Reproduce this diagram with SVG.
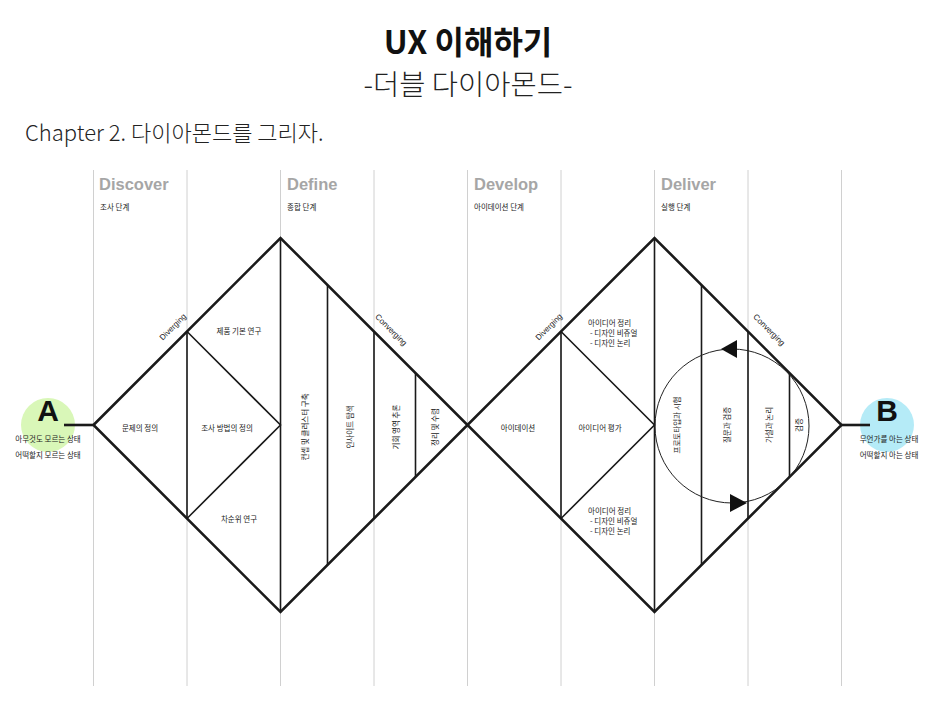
<svg xmlns="http://www.w3.org/2000/svg" width="936" height="702" viewBox="0 0 936 702">
<defs>
<style>
.k{font-family:"Noto Sans CJK KR","Noto Sans",sans-serif;}
.t{font-size:7.5px;fill:#222;text-anchor:middle;dominant-baseline:central;}
.tl{font-size:7.5px;fill:#222;}
.h{font-family:"Liberation Sans",Arial,sans-serif;font-weight:bold;font-size:16.5px;fill:#a6a6a6;}
.hs{font-size:7.5px;fill:#222;}
.g{stroke:#d0d0d0;stroke-width:1;fill:none;}
.o{stroke:#1a1a1a;stroke-width:2.6;fill:none;stroke-linejoin:miter;}
.i{stroke:#1a1a1a;stroke-width:1.6;fill:none;}
.lat{font-family:"Liberation Sans",Arial,sans-serif;font-size:8px;fill:#222;text-anchor:middle;dominant-baseline:central;}
</style>
</defs>
<rect width="936" height="702" fill="#fff"/>

<g id="title">
<text class="k" x="468" y="54" font-size="32" font-weight="bold" text-anchor="middle" fill="#111">UX 이해하기</text>
<text class="k" x="468" y="95" font-size="28.5" font-weight="300" text-anchor="middle" fill="#222">-더블 다이아몬드-</text>
<text class="k" x="25" y="141" font-size="22" font-weight="300" fill="#222">Chapter 2. 다이아몬드를 그리자.</text>
</g>

<g id="grid">
<line class="g" x1="93.5" y1="170" x2="93.5" y2="686"/>
<line class="g" x1="187" y1="170" x2="187" y2="686"/>
<line class="g" x1="280.5" y1="170" x2="280.5" y2="686"/>
<line class="g" x1="374" y1="170" x2="374" y2="686"/>
<line class="g" x1="467.5" y1="170" x2="467.5" y2="686"/>
<line class="g" x1="561" y1="170" x2="561" y2="686"/>
<line class="g" x1="654.5" y1="170" x2="654.5" y2="686"/>
<line class="g" x1="748" y1="170" x2="748" y2="686"/>
<line class="g" x1="841.5" y1="170" x2="841.5" y2="686"/>
</g>

<g id="headers">
<text class="h" x="99" y="190">Discover</text>
<text class="k hs" x="100" y="210">조사 단계</text>
<text class="h" x="287" y="190">Define</text>
<text class="k hs" x="287" y="210">종합 단계</text>
<text class="h" x="474" y="190">Develop</text>
<text class="k hs" x="474" y="210">아이데이션 단계</text>
<text class="h" x="661" y="190">Deliver</text>
<text class="k hs" x="661" y="210">실행 단계</text>
</g>

<g id="nodeA">
<circle cx="48" cy="425" r="27" fill="#d9f7b8"/>
<text x="48" y="421" font-family="Liberation Sans,Arial,sans-serif" font-weight="bold" font-size="30" text-anchor="middle" fill="#111">A</text>
<text class="k t" x="48" y="438">아무것도 모르는 상태</text>
<text class="k t" x="48" y="454">어떡할지 모르는 상태</text>
</g>

<g id="nodeB">
<circle cx="887" cy="425" r="27" fill="#b5ebf7"/>
<text x="887" y="421" font-family="Liberation Sans,Arial,sans-serif" font-weight="bold" font-size="30" text-anchor="middle" fill="#111">B</text>
<text class="k t" x="889" y="438">무언가를 아는 상태</text>
<text class="k t" x="889" y="454">어떡할지 아는 상태</text>
</g>

<g id="connectors">
<line class="o" x1="64" y1="425" x2="93.5" y2="425"/>
<line class="o" x1="841.5" y1="425" x2="870" y2="425"/>
</g>

<g id="diamond1">
<polygon class="o" points="93.5,425 280.5,238 467.5,425 280.5,612"/>
<line class="i" x1="187" y1="331.5" x2="187" y2="518.5"/>
<polyline class="i" points="187,331.5 280.5,425 187,518.5"/>
<line class="i" x1="280.5" y1="238" x2="280.5" y2="612"/>
<line class="i" x1="327.5" y1="285" x2="327.5" y2="565"/>
<line class="i" x1="374" y1="331.5" x2="374" y2="518.5"/>
<line class="i" x1="415.5" y1="373" x2="415.5" y2="477"/>
<text class="lat" transform="translate(173,327) rotate(-45)">Diverging</text>
<text class="lat" transform="translate(391,330) rotate(45)">Converging</text>
<text class="k t" x="239" y="330">제품 기본 연구</text>
<text class="k t" x="140" y="427">문제의 정의</text>
<text class="k t" x="227" y="427">조사 방법의 정의</text>
<text class="k t" x="239" y="518">차순위 연구</text>
<text class="k t" transform="translate(304,427) rotate(-90)">컨셉 및 클러스터 구축</text>
<text class="k t" transform="translate(349,427) rotate(-90)">인사이트 탐색</text>
<text class="k t" transform="translate(395,427) rotate(-90)">기회 영역 추론</text>
<text class="k t" transform="translate(434,427) rotate(-90)">정리 및 수렴</text>
</g>

<g id="diamond2">
<polygon class="o" points="467.5,425 654.5,238 841.5,425 654.5,612"/>
<line class="i" x1="561" y1="331.5" x2="561" y2="518.5"/>
<polyline class="i" points="561,331.5 654.5,425 561,518.5"/>
<line class="i" x1="654.5" y1="238" x2="654.5" y2="612"/>
<line class="i" x1="701.5" y1="285" x2="701.5" y2="565"/>
<line class="i" x1="748" y1="331.5" x2="748" y2="518.5"/>
<line class="i" x1="789.5" y1="373" x2="789.5" y2="477"/>
<text class="lat" transform="translate(549,327) rotate(-45)">Diverging</text>
<text class="lat" transform="translate(769,330) rotate(45)">Converging</text>
<text class="k tl" x="588" y="326">아이디어 정리</text>
<text class="k tl" x="590" y="336"> - 디자인 비쥬얼</text>
<text class="k tl" x="590" y="345.5"> - 디자인 논리</text>
<text class="k tl" x="588" y="514">아이디어 정리</text>
<text class="k tl" x="590" y="524"> - 디자인 비쥬얼</text>
<text class="k tl" x="590" y="533.5"> - 디자인 논리</text>
<text class="k t" x="518" y="427">아이데이션</text>
<text class="k t" x="600" y="427">아이디어 평가</text>
<text class="k t" transform="translate(676,425) rotate(-90)">프로토타입과 시험</text>
<text class="k t" transform="translate(726,425) rotate(-90)">질문과 검증</text>
<text class="k t" transform="translate(768,425) rotate(-90)">가설과 논리</text>
<text class="k t" transform="translate(798,425) rotate(-90)">검증</text>
</g>

<g id="cycle">
<circle cx="732" cy="426" r="77" fill="none" stroke="#222" stroke-width="1"/>
<polygon points="721,349 737,340 737,358" fill="#111"/>
<polygon points="747,503 730,494 730,512" fill="#111"/>
</g>
</svg>
